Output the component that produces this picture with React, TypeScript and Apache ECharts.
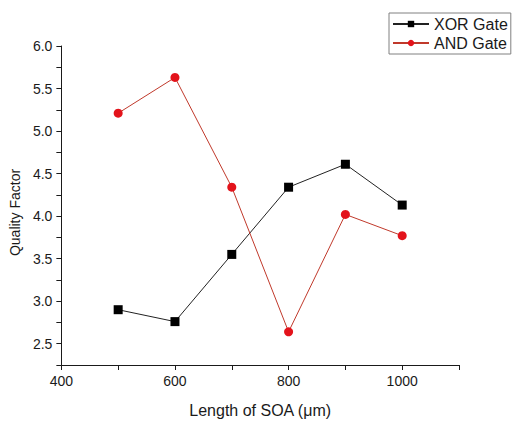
import React, { useEffect, useRef } from "react";
import * as echarts from "echarts";

const lengths = [500, 600, 700, 800, 900, 1000];
const xorGate = [2.9, 2.76, 3.55, 4.34, 4.61, 4.13];
const andGate = [5.21, 5.63, 4.34, 2.64, 4.02, 3.77];
const seriesNames = ["XOR Gate", "AND Gate"];

const FONT = "'Liberation Sans', Arial, sans-serif";

export default function App() {
  const ref = useRef<HTMLDivElement>(null);
  useEffect(() => {
    document.body.style.margin = "0";
    if (!ref.current) return;
    const chart = echarts.init(ref.current, null, { renderer: "svg" });
    chart.setOption({
      animation: false,
      backgroundColor: "#ffffff",
      textStyle: { fontFamily: FONT },
      grid: { left: 59, top: 46, right: 54, bottom: 53 },
      legend: {
        orient: "vertical",
        left: 389,
        top: 13,
        padding: [3, 3, 3, 3],
        itemGap: 3,
        itemWidth: 36,
        itemHeight: 8,
        borderColor: "#808080",
        borderWidth: 1,
        textStyle: { fontSize: 16, color: "#1a1a1a", fontFamily: FONT },
        data: seriesNames,
      },
      xAxis: {
        type: "value",
        min: 400,
        max: 1100,
        interval: 100,
        name: "Length of SOA (\u03bcm)",
        nameLocation: "middle",
        nameGap: 37,
        nameTextStyle: { fontSize: 16, color: "#1a1a1a", fontFamily: FONT },
        axisLine: { lineStyle: { color: "#1a1a1a", width: 1 } },
        axisTick: { show: true, length: 5, lineStyle: { color: "#1a1a1a" } },
        axisLabel: {
          fontSize: 14,
          color: "#1a1a1a",
          margin: 9,
          fontFamily: FONT,
          formatter: (v: number) => (v % 200 === 0 ? String(v) : ""),
        },
        splitLine: { show: false },
      },
      yAxis: {
        type: "value",
        min: 2.25,
        max: 6,
        interval: 0.25,
        name: "Quality Factor",
        nameLocation: "middle",
        nameGap: 38,
        nameTextStyle: {
          fontSize: 14,
          color: "#1a1a1a",
          fontFamily: FONT,
          padding: [0, 14, 0, 0],
        },
        axisLine: { show: true, lineStyle: { color: "#1a1a1a", width: 1 } },
        axisTick: { show: true, length: 5, lineStyle: { color: "#1a1a1a" } },
        axisLabel: {
          fontSize: 14,
          color: "#1a1a1a",
          margin: 9,
          fontFamily: FONT,
          formatter: (v: number) =>
            Math.abs(v * 2 - Math.round(v * 2)) < 1e-6 ? v.toFixed(1) : "",
        },
        splitLine: { show: false },
      },
      series: [
        {
          name: seriesNames[0],
          type: "line",
          data: lengths.map((x, i) => [x, xorGate[i]]),
          symbol: "rect",
          symbolSize: 9,
          itemStyle: { color: "#000000" },
          lineStyle: { color: "#222222", width: 1 },
        },
        {
          name: seriesNames[1],
          type: "line",
          data: lengths.map((x, i) => [x, andGate[i]]),
          symbol: "circle",
          symbolSize: 9,
          itemStyle: { color: "#e3131b" },
          lineStyle: { color: "#c0392b", width: 1 },
        },
      ],
    });
    return () => chart.dispose();
  }, []);
  return <div ref={ref} style={{ width: 513, height: 423 }} />;
}
